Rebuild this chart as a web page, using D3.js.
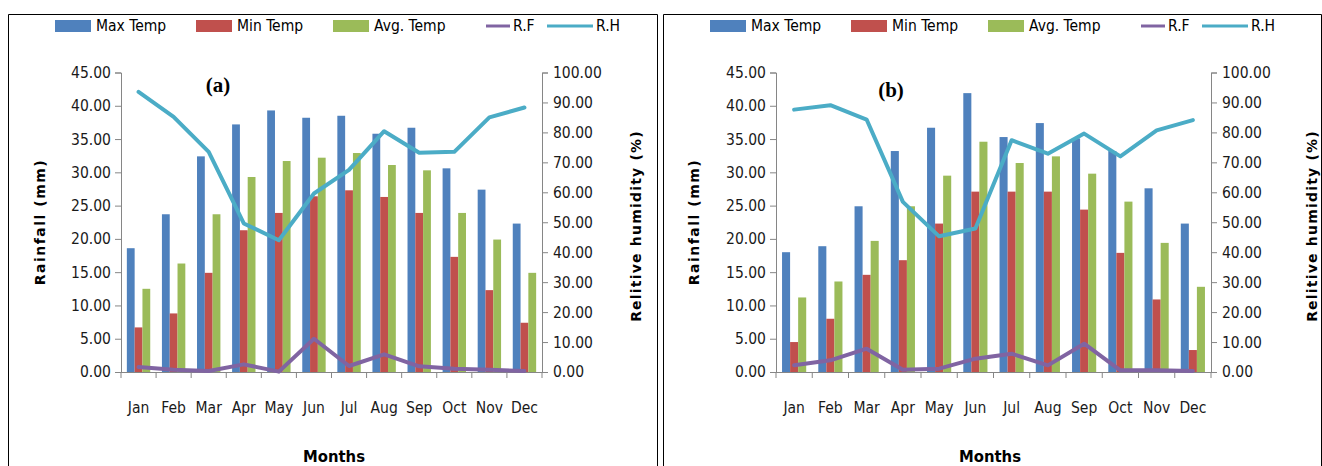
<!DOCTYPE html>
<html>
<head>
<meta charset="utf-8">
<script src="https://cdn.jsdelivr.net/npm/d3@7"></script>
<style>
  body { margin: 0; background: #fff; }
  svg { display: block; }
  .calib { font-family: "Liberation Sans Narrow", "Arial Narrow", "DejaVu Sans Condensed", sans-serif; }
</style>
</head>
<body>
<svg id="chart" width="1322" height="466"></svg>
<script>
const months = ["Jan", "Feb", "Mar", "Apr", "May", "Jun", "Jul", "Aug", "Sep", "Oct", "Nov", "Dec"];

// panel (a)
const maxTempA = [18.6, 23.7, 32.4, 37.2, 39.3, 38.2, 38.5, 35.8, 36.7, 30.6, 27.4, 22.3];
const minTempA = [6.7, 8.8, 14.9, 21.3, 23.9, 26.4, 27.3, 26.3, 23.9, 17.3, 12.3, 7.4];
const avgTempA = [12.5, 16.3, 23.7, 29.3, 31.7, 32.2, 32.9, 31.1, 30.3, 23.9, 19.9, 14.9];
const rfA = [0.75, 0.35, 0.15, 1.15, 0.05, 5.0, 0.9, 2.65, 0.85, 0.5, 0.35, 0.15];
const rhA = [93.5, 85.2, 73.5, 49.6, 44.0, 59.6, 67.5, 80.4, 73.2, 73.5, 85.0, 88.3];

// panel (b)
const maxTempB = [18.0, 18.9, 24.9, 33.2, 36.7, 41.9, 35.3, 37.4, 35.1, 33.2, 27.6, 22.3];
const minTempB = [4.5, 8.0, 14.6, 16.8, 22.3, 27.1, 27.1, 27.1, 24.4, 17.9, 10.9, 3.3];
const avgTempB = [11.2, 13.6, 19.7, 24.9, 29.5, 34.6, 31.4, 32.4, 29.8, 25.6, 19.4, 12.8];
const rfB = [1.0, 1.75, 3.5, 0.35, 0.5, 2.0, 2.75, 1.0, 4.25, 0.25, 0.25, 0.15];
const rhB = [87.6, 89.1, 84.3, 56.8, 45.3, 47.9, 77.4, 72.9, 79.6, 72.0, 80.7, 84.1];

const leftTicks = [0, 5, 10, 15, 20, 25, 30, 35, 40, 45];
const rightTicks = [0, 10, 20, 30, 40, 50, 60, 70, 80, 90, 100];
const barNames = ["Max Temp", "Min Temp", "Avg. Temp"];
const lineNames = ["R.F", "R.H"];
const barColors = ["#4f81bd", "#c0504d", "#9bbb59"];
const lineColors = ["#8064a2", "#4bacc6"];

const svg = d3.select("#chart");
const fmt = d3.format(".2f");
const axisColor = "#868686";

const panels = [
  { tag: "(a)", bars: [maxTempA, minTempA, avgTempA], rf: rfA, rh: rhA,
    left: 8, right: 657, x0: 121, x1: 542, tagX: 218, tagY: 92,
    leftTitleX: 40, rightTitleX: 636, monthsX: 334 },
  { tag: "(b)", bars: [maxTempB, minTempB, avgTempB], rf: rfB, rh: rhB,
    left: 663, right: 1321, x0: 776, x1: 1211, tagX: 891, tagY: 97,
    leftTitleX: 694, rightTitleX: 1312, monthsX: 990 }
];

const yTop = 72.5, yBottom = 372;

panels.forEach(drawPanel);

function drawPanel(p) {
  const g = svg.append("g");

  // frame
  g.append("path")
    .attr("d", `M${p.left + 0.5},470V${14.5}H${p.right + 0.5}V470`)
    .attr("fill", "none")
    .attr("stroke", "#000")
    .attr("stroke-width", 1);

  const x = d3.scaleBand().domain(months).range([p.x0, p.x1]).paddingInner(0).paddingOuter(0);
  const xs = d3.scaleBand().domain(d3.range(3)).range([0, x.bandwidth()]).paddingInner(0).paddingOuter(0.75);
  const y = d3.scaleLinear().domain([0, 45]).range([yBottom, yTop]);
  const y2 = d3.scaleLinear().domain([0, 100]).range([yBottom, yTop]);

  // bars
  p.bars.forEach((vals, si) => {
    g.append("g")
      .attr("fill", barColors[si])
      .selectAll("rect")
      .data(vals)
      .join("rect")
      .attr("x", (d, i) => x(months[i]) + xs(si))
      .attr("y", (d) => y(d))
      .attr("width", xs.bandwidth())
      .attr("height", (d) => y(0) - y(d));
  });

  // axes
  const leftAxis = g.append("g")
    .attr("transform", `translate(${p.x0},0)`)
    .call(d3.axisLeft(y).tickValues(leftTicks).tickFormat(fmt).tickSize(6).tickPadding(4));
  const rightAxis = g.append("g")
    .attr("transform", `translate(${p.x1},0)`)
    .call(d3.axisRight(y2).tickValues(rightTicks).tickFormat(fmt).tickSize(6).tickPadding(5));
  const bottomAxis = g.append("g")
    .attr("transform", `translate(0,${yBottom})`)
    .call(d3.axisBottom(x).tickSize(0).tickPadding(30).tickSizeOuter(0));
  // ticks at band edges
  g.append("g")
    .selectAll("line")
    .data(d3.range(months.length + 1))
    .join("line")
    .attr("x1", (i) => p.x0 + i * x.step())
    .attr("x2", (i) => p.x0 + i * x.step())
    .attr("y1", yBottom)
    .attr("y2", yBottom + 6)
    .attr("stroke", axisColor);

  [leftAxis, rightAxis, bottomAxis].forEach((a) => {
    a.selectAll(".domain, line").attr("stroke", axisColor);
    a.selectAll("text")
      .attr("class", "calib")
      .attr("font-size", 15.5)
      .attr("fill", "#1a1a1a");
  });
  bottomAxis.select(".domain").attr("d", `M${p.x0},0.5H${p.x1}`);

  // lines (rainfall on primary axis, humidity on secondary)
  const lineRF = d3.line().x((d, i) => x(months[i]) + x.bandwidth() / 2).y((d) => y(d));
  const lineRH = d3.line().x((d, i) => x(months[i]) + x.bandwidth() / 2).y((d) => y2(d));
  g.append("path")
    .attr("d", lineRF(p.rf))
    .attr("fill", "none")
    .attr("stroke", lineColors[0])
    .attr("stroke-width", 4)
    .attr("stroke-linejoin", "round")
    .attr("stroke-linecap", "round");
  g.append("path")
    .attr("d", lineRH(p.rh))
    .attr("fill", "none")
    .attr("stroke", lineColors[1])
    .attr("stroke-width", 4)
    .attr("stroke-linejoin", "round")
    .attr("stroke-linecap", "round");

  // panel tag
  g.append("text")
    .attr("x", p.tagX)
    .attr("y", p.tagY)
    .attr("text-anchor", "middle")
    .attr("font-family", "Liberation Serif, serif")
    .attr("font-weight", "bold")
    .attr("font-size", 21)
    .text(p.tag);

  // axis titles
  g.append("text")
    .attr("transform", `translate(${p.leftTitleX},222) rotate(-90)`)
    .attr("text-anchor", "middle")
    .attr("dy", "0.35em")
    .attr("font-family", "DejaVu Sans, sans-serif")
    .attr("font-weight", "bold")
    .attr("font-size", 14)
    .attr("letter-spacing", 1.5)
    .text("Rainfall (mm)");
  g.append("text")
    .attr("transform", `translate(${p.rightTitleX},226) rotate(-90)`)
    .attr("text-anchor", "middle")
    .attr("dy", "0.35em")
    .attr("font-family", "DejaVu Sans, sans-serif")
    .attr("font-weight", "bold")
    .attr("font-size", 14)
    .attr("letter-spacing", 1.2)
    .text("Relitive humidity (%)");
  g.append("text")
    .attr("class", "calib")
    .attr("x", p.monthsX)
    .attr("y", 462)
    .attr("text-anchor", "middle")
    .attr("font-weight", "bold")
    .attr("font-size", 16.5)
    .text("Months");

  // legend
  const lx = p.left;
  const leg = g.append("g").attr("class", "calib").attr("font-size", 15.5);
  const barLegX = [47, 188, 325];
  barNames.forEach((n, i) => {
    leg.append("rect")
      .attr("x", lx + barLegX[i]).attr("y", 20)
      .attr("width", 36).attr("height", 12)
      .attr("fill", barColors[i]);
    leg.append("text")
      .attr("x", lx + barLegX[i] + 41).attr("y", 26)
      .attr("dy", "0.35em")
      .text(n);
  });
  const lineLegX = [[478, 502], [539, 585]];
  lineNames.forEach((n, i) => {
    leg.append("line")
      .attr("x1", lx + lineLegX[i][0]).attr("x2", lx + lineLegX[i][1])
      .attr("y1", 26).attr("y2", 26)
      .attr("stroke", lineColors[i])
      .attr("stroke-width", 3);
    leg.append("text")
      .attr("x", lx + lineLegX[i][1] + 3).attr("y", 26)
      .attr("dy", "0.35em")
      .text(n);
  });
}
</script>
</body>
</html>
